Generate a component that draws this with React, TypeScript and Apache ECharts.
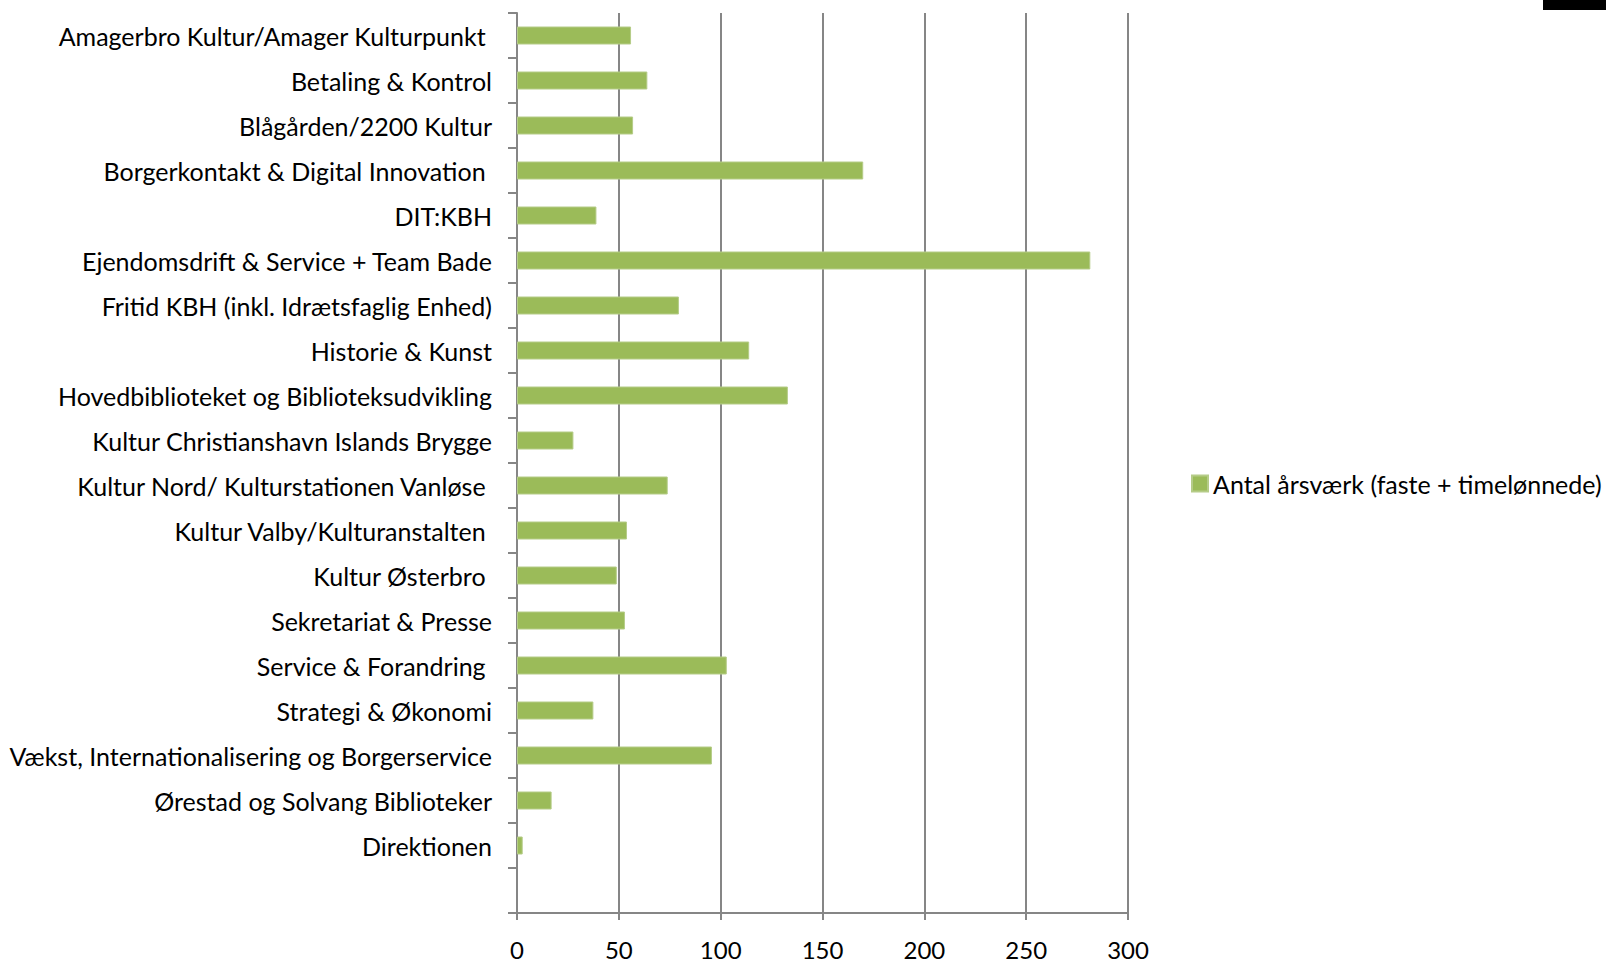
import React, { useEffect, useRef } from "react";
import * as echarts from "echarts";

const categories: string[] = [
  "Amagerbro Kultur/Amager Kulturpunkt ",
  "Betaling & Kontrol",
  "Blågården/2200 Kultur",
  "Borgerkontakt & Digital Innovation ",
  "DIT:KBH",
  "Ejendomsdrift & Service + Team Bade",
  "Fritid KBH (inkl. Idrætsfaglig Enhed)",
  "Historie & Kunst",
  "Hovedbiblioteket og Biblioteksudvikling",
  "Kultur Christianshavn Islands Brygge",
  "Kultur Nord/ Kulturstationen Vanløse ",
  "Kultur Valby/Kulturanstalten ",
  "Kultur Østerbro ",
  "Sekretariat & Presse",
  "Service & Forandring ",
  "Strategi & Økonomi",
  "Vækst, Internationalisering og Borgerservice",
  "Ørestad og Solvang Biblioteker",
  "Direktionen",
  "",
];

const seriesName = "Antal årsværk (faste + timelønnede)";

const values: (number | null)[] = [
  56, 64, 57, 170, 39, 281.5, 79.5, 114, 133, 27.7, 74, 54, 49, 53, 103, 37.5,
  95.7, 17, 2.8, null,
];

const xTicks = { min: 0, max: 300, interval: 50 };

const FONT = "Lato, 'Open Sans', sans-serif";
const GRAY = "#868686";
const GREEN = "#9BBB59";

export default function App() {
  const ref = useRef<HTMLDivElement>(null);

  useEffect(() => {
    if (!ref.current) return;
    const chart = echarts.init(ref.current, undefined, { renderer: "svg" });
    chart.setOption({
      animation: false,
      backgroundColor: "#ffffff",
      textStyle: { fontFamily: FONT },
      grid: { left: 517, right: 478, top: 13, bottom: 50, containLabel: false },
      legend: {
        data: [seriesName],
        orient: "vertical",
        left: 1186,
        top: 466,
        icon: "rect",
        itemWidth: 16,
        itemHeight: 16,
        itemGap: 6,
        textStyle: { fontFamily: FONT, fontSize: 25, color: "#000" },
      },
      xAxis: {
        type: "value",
        min: xTicks.min,
        max: xTicks.max,
        interval: xTicks.interval,
        axisLine: { show: true, lineStyle: { color: GRAY, width: 2 } },
        axisTick: { show: true, length: 7, lineStyle: { color: GRAY, width: 2 } },
        splitLine: { show: true, lineStyle: { color: GRAY, width: 2 } },
        axisLabel: { color: "#000", fontSize: 24, fontFamily: FONT, margin: 24 },
      },
      yAxis: {
        type: "category",
        data: categories,
        inverse: true,
        boundaryGap: true,
        axisLine: { show: true, lineStyle: { color: GRAY, width: 2 } },
        axisTick: { show: true, length: 9, lineStyle: { color: GRAY, width: 2 } },
        splitLine: { show: false },
        axisLabel: {
          color: "#000",
          fontSize: 25,
          fontFamily: FONT,
          margin: 25,
          interval: 0,
        },
      },
      series: [
        {
          name: seriesName,
          type: "bar",
          data: values,
          barWidth: 18,
          itemStyle: { color: GREEN, borderColor: "#B5CC88", borderWidth: 1 },
        },
      ],
      graphic: [
        {
          type: "rect",
          shape: { x: 1543, y: 0, width: 63, height: 10 },
          style: { fill: "#000" },
        },
      ],
    });
    return () => chart.dispose();
  }, []);

  return (
    <div
      ref={ref}
      style={{ position: "fixed", left: 0, top: 0, width: 1606, height: 963 }}
    />
  );
}
